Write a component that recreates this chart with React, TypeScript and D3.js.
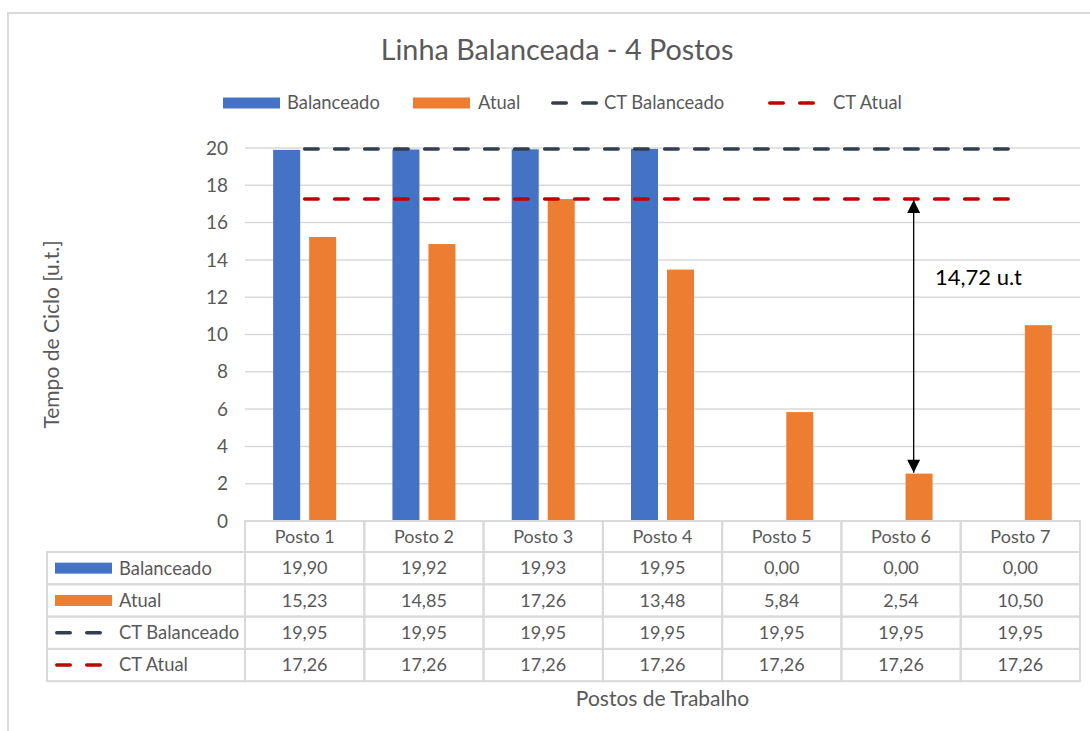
import React from "react";
import * as d3 from "d3";

const categories = ["Posto 1", "Posto 2", "Posto 3", "Posto 4", "Posto 5", "Posto 6", "Posto 7"];
const balanceado = [19.9, 19.92, 19.93, 19.95, 0, 0, 0];
const atual = [15.23, 14.85, 17.26, 13.48, 5.84, 2.54, 10.5];
const ctBalanceado = [19.95, 19.95, 19.95, 19.95, 19.95, 19.95, 19.95];
const ctAtual = [17.26, 17.26, 17.26, 17.26, 17.26, 17.26, 17.26];
const yTicks = [0, 2, 4, 6, 8, 10, 12, 14, 16, 18, 20];
const seriesNames = ["Balanceado", "Atual", "CT Balanceado", "CT Atual"];
const annotationText = "14,72 u.t";
const titleText = "Linha Balanceada - 4 Postos";
const yTitle = "Tempo de Ciclo [u.t.]";
const xTitle = "Postos de Trabalho";

const W = 1090;
const H = 731;
const FONT = "Lato, 'Open Sans', sans-serif";
const TXT = "#595959";
const GRID = "#d9d9d9";
const BLUE = "#4472C4";
const ORANGE = "#ED7D31";
const DARK = "#333F50";
const RED = "#C00000";

const plotL = 245;
const plotR = 1080;
const plotT = 148;
const plotB = 521;
const tableL = 47;
const rowH = 32.3;

const fmt = (v: number) => d3.format(".2f")(v).replace(".", ",");

export default function App() {
  const x = d3.scaleBand<string>().domain(categories).range([plotL, plotR]).padding(0);
  const y = d3.scaleLinear().domain([0, 20]).range([plotB, plotT]);
  const inner = d3
    .scaleBand<string>()
    .domain(["Balanceado", "Atual"])
    .range([-31.5, 31.5])
    .paddingInner(0.25);
  const cx = (c: string) => (x(c) as number) + x.bandwidth() / 2;

  const line = d3
    .line<number>()
    .x((_, i) => cx(categories[i]))
    .y((d) => y(d));

  const rows = [
    { name: seriesNames[0], values: balanceado, kind: "bar", color: BLUE },
    { name: seriesNames[1], values: atual, kind: "bar", color: ORANGE },
    { name: seriesNames[2], values: ctBalanceado, kind: "line", color: DARK },
    { name: seriesNames[3], values: ctAtual, kind: "line", color: RED },
  ];

  // legend layout (top)
  const legendY = 103;
  const legendItems = [
    { x: 223, tx: 287 },
    { x: 413, tx: 478 },
    { x: 551, tx: 604 },
    { x: 768, tx: 833 },
  ];

  // annotation
  const annC = categories[5];
  const annX = cx(annC) + (inner("Atual") as number) + inner.bandwidth() * 0.3;
  const annTop = y(ctAtual[5]);
  const annBot = y(atual[5]);

  const tableTop = plotB;
  const tableRowsTop = tableTop + 31;

  const swatch = (kind: string, color: string, sx: number, sy: number, w: number) =>
    kind === "bar" ? (
      <rect x={sx} y={sy - 5.5} width={w} height={11} fill={color} />
    ) : (
      <line
        x1={sx + 1.75}
        x2={sx + w - 1.75}
        y1={sy}
        y2={sy}
        stroke={color}
        strokeWidth={3.5}
        strokeLinecap="round"
        strokeDasharray="13.5 16.5"
      />
    );

  return (
    <svg
      width={W}
      height={H}
      style={{ position: "absolute", left: 0, top: 0, background: "#fff" }}
      fontFamily={FONT}
    >
      <defs>
        <marker id="ah" viewBox="0 0 10 10" refX="10" refY="5" markerWidth="14" markerHeight="13" markerUnits="userSpaceOnUse" orient="auto-start-reverse">
          <path d="M0,0 L10,5 L0,10 Z" fill="#000" />
        </marker>
      </defs>
      <rect x={0} y={0} width={W} height={H} fill="#fff" />
      {/* outer frame */}
      <rect x={8} y={13} width={W + 50} height={H + 50} fill="none" stroke={GRID} strokeWidth={2} />

      {/* title */}
      <text x={557} y={60} textAnchor="middle" fontSize={28.8} fill={TXT}>
        {titleText}
      </text>

      {/* legend */}
      {rows.map((r, i) => (
        <g key={r.name}>
          {swatch(r.kind, r.color, legendItems[i].x, legendY, r.kind === "bar" ? 57 : 48)}
          <text x={legendItems[i].tx} y={legendY} dy="0.35em" fontSize={18.4} fill={TXT}>
            {r.name}
          </text>
        </g>
      ))}

      {/* gridlines */}
      {yTicks.map((t) => (
        <line key={t} x1={plotL} x2={plotR} y1={y(t)} y2={y(t)} stroke={GRID} strokeWidth={1.5} />
      ))}
      {/* y tick labels */}
      {yTicks.map((t) => (
        <text key={t} x={228} y={y(t)} dy="0.35em" textAnchor="end" fontSize={19} fill={TXT}>
          {t}
        </text>
      ))}
      {/* y title */}
      <text
        transform={`translate(${59},${334.5}) rotate(-90)`}
        textAnchor="middle"
        fontSize={21}
        fill={TXT}
      >
        {yTitle}
      </text>

      {/* bars */}
      {categories.map((c, i) => (
        <g key={c}>
          <rect
            x={(x(c) as number) + x.bandwidth() / 2 + (inner("Balanceado") as number)}
            y={y(balanceado[i])}
            width={inner.bandwidth()}
            height={plotB - y(balanceado[i])}
            fill={BLUE}
          />
          <rect
            x={(x(c) as number) + x.bandwidth() / 2 + (inner("Atual") as number)}
            y={y(atual[i])}
            width={inner.bandwidth()}
            height={plotB - y(atual[i])}
            fill={ORANGE}
          />
        </g>
      ))}

      {/* CT lines */}
      <path d={line(ctBalanceado) || ""} fill="none" stroke={DARK} strokeWidth={3.5} strokeLinecap="round" strokeDasharray="13.5 16.5" />
      <path d={line(ctAtual) || ""} fill="none" stroke={RED} strokeWidth={3.5} strokeLinecap="round" strokeDasharray="13.5 16.5" />

      {/* annotation arrow */}
      <line
        x1={annX}
        x2={annX}
        y1={annTop + 1}
        y2={annBot - 1}
        stroke="#000"
        strokeWidth={1.3}
        markerStart="url(#ah)"
        markerEnd="url(#ah)"
      />
      <text x={935} y={285} fontSize={22} fill="#000">
        {annotationText}
      </text>

      {/* data table */}
      <g>
        {/* header cells */}
        {categories.map((c) => (
          <g key={c}>
            <rect x={x(c)} y={tableTop} width={x.bandwidth()} height={31} fill="none" stroke={GRID} strokeWidth={2} />
            <text x={cx(c)} y={tableTop + 16} dy="0.35em" textAnchor="middle" fontSize={18} fill={TXT}>
              {c}
            </text>
          </g>
        ))}
        {rows.map((r, ri) => {
          const ry = tableRowsTop + ri * rowH;
          return (
            <g key={r.name}>
              <rect x={tableL} y={ry} width={plotL - tableL} height={rowH} fill="none" stroke={GRID} strokeWidth={2} />
              {swatch(r.kind, r.color, 55, ry + rowH / 2, r.kind === "bar" ? 57 : 48)}
              <text x={119} y={ry + rowH / 2} dy="0.35em" fontSize={18.4} fill={TXT}>
                {r.name}
              </text>
              {categories.map((c, ci) => (
                <g key={c}>
                  <rect x={x(c)} y={ry} width={x.bandwidth()} height={rowH} fill="none" stroke={GRID} strokeWidth={2} />
                  <text x={cx(c)} y={ry + rowH / 2} dy="0.35em" textAnchor="middle" fontSize={18} fill={TXT}>
                    {fmt(r.values[ci])}
                  </text>
                </g>
              ))}
            </g>
          );
        })}
      </g>

      {/* x title */}
      <text x={(plotL + plotR) / 2} y={699} dy="0.35em" textAnchor="middle" fontSize={21} fill={TXT}>
        {xTitle}
      </text>
    </svg>
  );
}
